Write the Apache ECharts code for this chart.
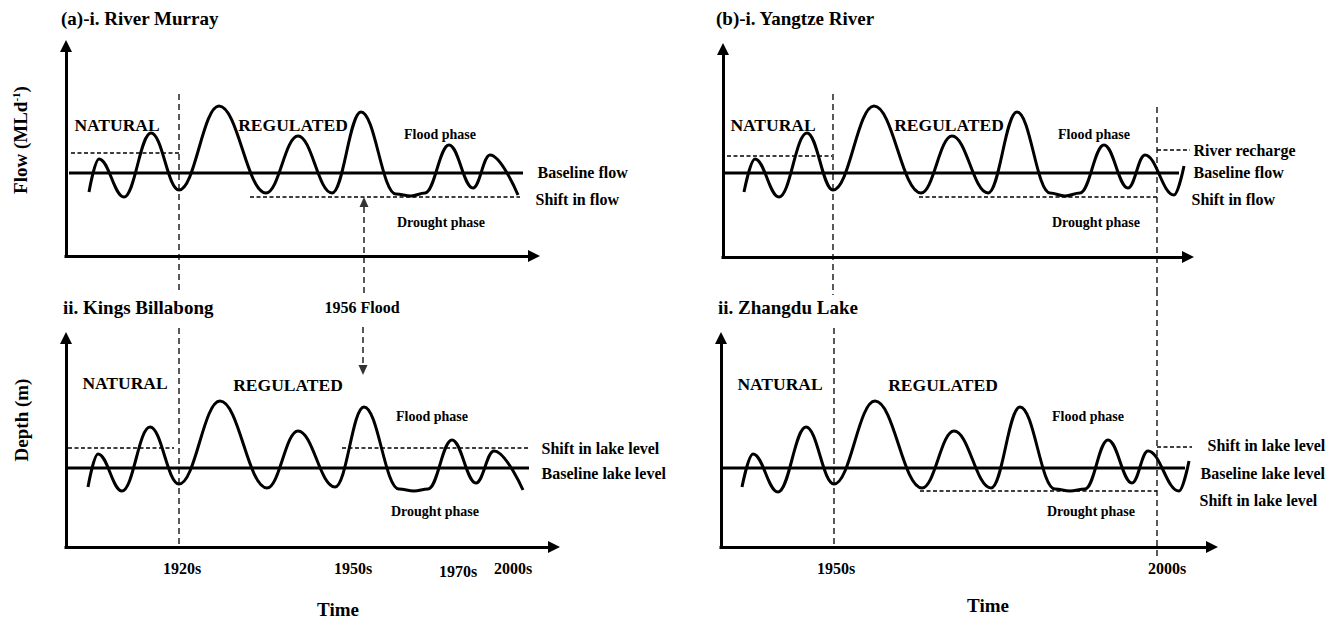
<!DOCTYPE html>
<html><head><meta charset="utf-8">
<script src="https://cdn.jsdelivr.net/npm/echarts@6/dist/echarts.min.js"></script>
<style>html,body{margin:0;padding:0;background:#fff}#c{width:1336px;height:618px}</style>
</head><body><div id="c"></div>
<script>
// ---------- DATA (schematic, relative units: time along x, flow/depth with baseline = 0) ----------
// (a)-i River Murray flow
const murrayTime = [2.3,3.3,5.8,8.5,11.3,15.3,20.0,23.2,26.6,29.5,33.0,34.5,35.9,38.3,40.7,42.4,45.2];
const murrayFlow = [-1.9,1.4,-2.4,4.0,-1.7,6.7,-2.0,3.7,-2.0,6.1,-2.1,-2.3,-2.0,2.8,-1.5,1.8,-2.2];
// ii Kings Billabong depth
const billabongTime  = [2.2,3.2,5.6,8.4,11.3,15.4,20.1,23.2,26.9,29.8,33.3,34.8,36.2,38.6,41.0,42.8,45.7];
const billabongDepth = [-1.9,1.4,-2.3,4.1,-1.6,6.7,-2.0,3.7,-1.9,6.1,-2.1,-2.3,-2.1,2.8,-1.5,1.7,-2.2];
// (b)-i Yangtze River flow
const yangtzeTime = [2.1,3.2,5.6,8.4,11.0,15.1,19.8,22.9,26.5,29.4,32.7,34.2,35.7,38.1,40.5,42.2,45.1,46.1];
const yangtzeFlow = [-1.9,1.4,-2.4,4.0,-1.7,6.7,-2.0,3.7,-2.0,6.1,-2.0,-2.3,-2.0,2.8,-1.5,1.8,-2.2,0.7];
// ii Zhangdu Lake depth
const zhangduTime  = [2.1,3.2,5.7,8.5,11.3,15.4,20.1,23.3,27.0,29.9,33.4,34.9,36.4,38.7,41.1,42.7,45.8,46.8];
const zhangduDepth = [-1.9,1.4,-2.4,4.1,-1.6,6.7,-2.0,3.7,-2.0,6.1,-2.1,-2.3,-2.1,2.8,-1.5,1.7,-2.3,0.7];

// baselines [xStart, xEnd] at value 0
const baselineSpans = [[0.3,45.7],[0.1,46.3],[0.0,45.6],[0.0,46.4]];

// reference (dashed) segments [[x1,y1],[x2,y2]]
const murrayRefs = [[[0.5,2.0],[11.3,2.0]], [[11.3,7.9],[11.3,-12.0]], [[18.4,-2.4],[45.4,-2.4]], [[29.8,-12.0],[29.8,-3.3]]];
const billabongRefs = [[[0.2,2.0],[10.8,2.0]], [[11.3,14.0],[11.3,-7.9]], [[27.6,2.0],[46.2,2.0]], [[29.7,14.1],[29.7,10.2]]];
const yangtzeRefs = [[[0.4,1.7],[10.9,1.7]], [[11.0,7.9],[11.0,-12.2]], [[43.4,6.6],[43.4,-11.7]], [[19.6,-2.4],[43.4,-2.4]], [[43.4,2.3],[46.7,2.3]]];
const zhangduRefs = [[[11.3,14.0],[11.3,-7.9]], [[43.6,17.8],[43.6,-9.0]], [[19.9,-2.3],[43.6,-2.3]], [[43.6,2.1],[47.1,2.1]]];

// arrow heads [x, y, rotationDeg]
const murrayArrowHeads = [[29.8,-2.9,0]];
const billabongArrowHeads = [[29.7,9.8,180]];

// text annotations [text, x, y]
const murrayRegimes = [['NATURAL',5.1,4.8],['REGULATED',22.7,4.8]];
const billabongRegimes = [['NATURAL',5.9,8.5],['REGULATED',22.2,8.3]];
const yangtzeRegimes = [['NATURAL',5.0,4.8],['REGULATED',22.6,4.8]];
const zhangduRegimes = [['NATURAL',5.9,8.4],['REGULATED',22.2,8.3]];

const murrayPhases = [['Flood phase',37.4,3.9],['Drought phase',37.5,-4.9]];
const billabongPhases = [['Flood phase',36.6,5.2],['Drought phase',36.9,-4.3]];
const yangtzePhases = [['Flood phase',37.1,3.9],['Drought phase',37.3,-4.9]];
const zhangduPhases = [['Flood phase',36.7,5.2],['Drought phase',37.0,-4.3]];

const murraySide = [['Baseline flow',47.1,0.1],['Shift in flow',46.9,-2.6]];
const billabongSide = [['Shift in lake level',47.5,2.0],['Baseline lake level',47.5,-0.5]];
const yangtzeSide = [['River recharge',47.0,2.3],['Baseline flow',47.0,0.1],['Shift in flow',46.8,-2.6]];
const zhangduSide = [['Shift in lake level',48.6,2.3],['Baseline lake level',47.9,-0.5],['Shift in lake level',47.8,-3.2]];

const billabongTicks = [['1920s',11.6,-10.0],['1950s',28.7,-10.0],['1970s',39.2,-10.3],['2000s',44.7,-10.0]];
const zhangduTicks = [['1950s',11.5,-10.0],['2000s',44.6,-10.0]];
const billabongEvents = [['1956 Flood',29.6,16.1]];

const panelTitles = ['(a)-i. River Murray','ii. Kings Billabong','(b)-i. Yangtze River','ii. Zhangdu Lake'];
const axisNames = ['Flow (MLd{sup|-1})','Depth (m)','Time'];

// ---------- LAYOUT ----------
const FONT = '"Liberation Serif","Times New Roman",Times,serif';
const layout = [
  {left:66, top:46, width:468, height:210, xMax:46.8, yMin:-8.3, yMax:12.7},
  {left:66, top:338, width:488, height:209, xMax:48.8, yMin:-7.9, yMax:13.0},
  {left:723, top:49, width:465, height:208, xMax:46.5, yMin:-8.4, yMax:12.4},
  {left:721, top:338, width:491, height:209, xMax:49.1, yMin:-7.9, yMax:13.0}
];
const panels = [
  {t:murrayTime, v:murrayFlow, refs:murrayRefs, heads:murrayArrowHeads, big:murrayRegimes, phase:murrayPhases, side:murraySide, ticks:[], events:[]},
  {t:billabongTime, v:billabongDepth, refs:billabongRefs, heads:billabongArrowHeads, big:billabongRegimes, phase:billabongPhases, side:billabongSide, ticks:billabongTicks, events:billabongEvents},
  {t:yangtzeTime, v:yangtzeFlow, refs:yangtzeRefs, heads:[], big:yangtzeRegimes, phase:yangtzePhases, side:yangtzeSide, ticks:[], events:[]},
  {t:zhangduTime, v:zhangduDepth, refs:zhangduRefs, heads:[], big:zhangduRegimes, phase:zhangduPhases, side:zhangduSide, ticks:zhangduTicks, events:[]}
];

const axisLine = {show:true, onZero:false, symbol:['none','triangle'], symbolSize:[12,12],
  lineStyle:{color:'#000', width:3, cap:'square'}};
const hidden = {axisTick:{show:false}, axisLabel:{show:false}, splitLine:{show:false}};

const grid = [], xAxis = [], yAxis = [], series = [];

function textSeries(gi, items, size, centered) {
  return {type:'scatter', xAxisIndex:gi, yAxisIndex:gi, clip:false, silent:true, z:5,
    symbol:'circle', symbolSize:1, itemStyle:{color:'rgba(0,0,0,0)'},
    data: items.map(d => ({name:d[0], value:[d[1], d[2]]})),
    label:{show:true, formatter:'{b}',
      position: centered ? [0.5, 0.5] : 'right', distance:0,
      align: centered ? 'center' : 'left', verticalAlign:'middle',
      color:'#000', opacity:1, textBorderWidth:0,
      fontFamily:FONT, fontWeight:'bold', fontSize:size}};
}

panels.forEach((p, gi) => {
  const L = layout[gi];
  grid.push({left:L.left, top:L.top, width:L.width, height:L.height, containLabel:false, outerBoundsMode:'none'});
  xAxis.push(Object.assign({gridIndex:gi, type:'value', min:0, max:L.xMax, axisLine}, hidden));
  yAxis.push(Object.assign({gridIndex:gi, type:'value', min:L.yMin, max:L.yMax, axisLine}, hidden));

  // baseline
  const b = baselineSpans[gi];
  series.push({type:'line', xAxisIndex:gi, yAxisIndex:gi, clip:false, silent:true, symbol:'none', z:2,
    data:[[b[0],0],[b[1],0]], lineStyle:{color:'#000', width:3}});
  // curve
  series.push({type:'line', xAxisIndex:gi, yAxisIndex:gi, clip:false, silent:true, symbol:'none', z:3,
    smooth:0.4, smoothMonotone:'x',
    data:p.t.map((x, i) => [x, p.v[i]]), lineStyle:{color:'#000', width:3, join:'round'}});
  // dashed references
  p.refs.forEach(s => {
    const vertical = s[0][0] === s[1][0];
    series.push({type:'line', xAxisIndex:gi, yAxisIndex:gi, clip:false, silent:true, symbol:'none', z:1,
      data:s, lineStyle:{color:'#000', width:1.3, type: vertical ? [6,4] : [4,2.5]}});
  });
  // arrow heads
  p.heads.forEach(h => {
    series.push({type:'scatter', xAxisIndex:gi, yAxisIndex:gi, clip:false, silent:true, z:4,
      symbol:'triangle', symbolSize:[9,10], symbolRotate:h[2], itemStyle:{color:'#000'},
      data:[[h[0], h[1]]]});
  });
  series.push(textSeries(gi, p.big, 17.5, true));
  series.push(textSeries(gi, p.phase, 14, true));
  series.push(textSeries(gi, p.side, 16, false));
  if (p.ticks.length) series.push(textSeries(gi, p.ticks, 16, true));
  if (p.events.length) series.push(textSeries(gi, p.events, 16, true));
});

function txt(text, x, y, size, align, rot) {
  return {type:'text', x:x, y:y, rotation:rot || 0, silent:true, z:10,
    style:{text:text, fill:'#000', fontFamily:FONT, fontWeight:'bold', fontSize:size,
      align:align, verticalAlign:'middle', textAlign:align, textVerticalAlign:'middle',
      rich:{sup:{fontSize:11, fontWeight:'bold', fontFamily:FONT, fill:'#000', verticalAlign:'top'}}}};
}
const graphic = [
  txt(panelTitles[0], 61, 18, 19, 'left'),
  txt(panelTitles[1], 63, 307, 19, 'left'),
  txt(panelTitles[2], 716, 18, 19, 'left'),
  txt(panelTitles[3], 718, 307, 19, 'left'),
  txt(axisNames[0], 20, 140, 19, 'center', Math.PI/2),
  txt(axisNames[1], 21, 420, 19, 'center', Math.PI/2),
  txt(axisNames[2], 338, 609, 19, 'center'),
  txt(axisNames[2], 988, 605, 19, 'center')
];

const chart = echarts.init(document.getElementById('c'), null, {renderer:'svg', width:1336, height:618});
chart.setOption({backgroundColor:'#fff', animation:false, grid, xAxis, yAxis, series, graphic});
</script>
</body></html>
